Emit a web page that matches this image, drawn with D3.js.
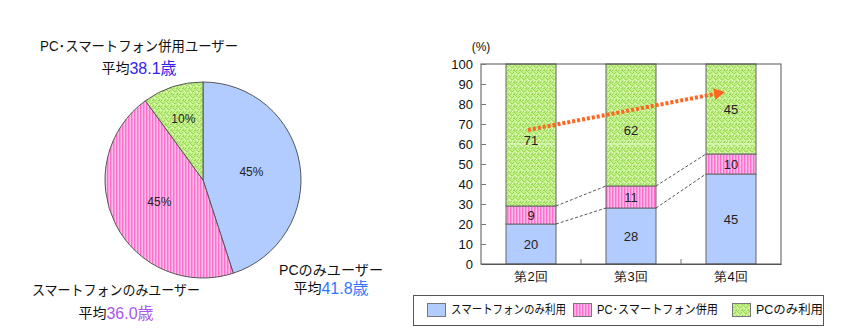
<!DOCTYPE html>
<html><head><meta charset="utf-8">
<script src="https://cdn.jsdelivr.net/npm/d3@7"></script>
<style>
body{margin:0;background:#fff;}
svg{display:block;font-family:"Liberation Sans","Noto Sans CJK JP",sans-serif;}
</style></head>
<body><svg id="c" width="847" height="328"></svg>
<script>
// ---- data ----
const pieKeys = ["PCのみ", "スマートフォンのみ", "併用"];
const pieValues = [45, 45, 10];
const pieTitles = ["PCのみユーザー", "スマートフォンのみユーザー", "PC･スマートフォン併用ユーザー"];
const pieAges = ["41.8歳", "36.0歳", "38.1歳"];

const categories = ["第2回", "第3回", "第4回"];
const seriesNames = ["スマートフォンのみ利用", "PC･スマートフォン併用", "PCのみ利用"];
const smartOnly = [20, 28, 45];
const both = [9, 11, 10];
const pcOnly = [71, 62, 45];
const yTicks = [0, 10, 20, 30, 40, 50, 60, 70, 80, 90, 100];
const trendFrom = ["第2回", 67];
const trendTo = ["第4回", 86];

const svg = d3.select("#c");
const defs = svg.append("defs");

// patterns
const pBlue = defs.append("pattern").attr("id","pBlue").attr("patternUnits","userSpaceOnUse").attr("width",4).attr("height",4);
pBlue.append("rect").attr("width",4).attr("height",4).attr("fill","#b3ccff");

const pPink = defs.append("pattern").attr("id","pPink").attr("patternUnits","userSpaceOnUse").attr("width",3).attr("height",3);
pPink.append("rect").attr("width",3).attr("height",3).attr("fill","#ff99dd");
pPink.append("rect").attr("x",0).attr("width",1).attr("height",3).attr("fill","#ff6fcf");
pPink.append("rect").attr("x",2).attr("width",1).attr("height",3).attr("fill","#ffbbea");

const pGreen = defs.append("pattern").attr("id","pGreen").attr("patternUnits","userSpaceOnUse").attr("width",6).attr("height",6);
pGreen.append("rect").attr("width",6).attr("height",6).attr("fill","#c4f08a");
[[0,0],[1,1],[2,1],[3,0],[4,3],[3,4],[4,4],[5,5],[0,4],[1,3]].forEach(([x,y])=>{
  pGreen.append("rect").attr("x",x).attr("y",y).attr("width",1).attr("height",1).attr("fill","#9ad85c");
});
[[2,3],[5,1],[0,2]].forEach(([x,y])=>{
  pGreen.append("rect").attr("x",x).attr("y",y).attr("width",1).attr("height",1).attr("fill","#e6ffc4");
});

const fills = ["url(#pBlue)","url(#pPink)","url(#pGreen)"];

// ---- pie ----
const pieG = svg.append("g").attr("transform","translate(203,180)");
const R = 98;
const pie = d3.pie().sort(null).value(d=>d)(pieValues);
const arc = d3.arc().innerRadius(0).outerRadius(R);
pieG.selectAll("path.s").data(pie).join("path").attr("class","s")
  .attr("d",arc).attr("fill",(d,i)=>fills[i])
  .attr("stroke","#555").attr("stroke-width",1);
pieG.selectAll("text.pl").data(pie).join("text").attr("class","pl")
  .attr("transform",d=>{
    const r = d.value>=20 ? R*0.5 : R*0.65;
    const a = (d.startAngle+d.endAngle)/2;
    return `translate(${r*Math.sin(a)},${-r*Math.cos(a)})`;
  })
  .attr("text-anchor","middle").attr("dominant-baseline","central")
  .attr("font-size",12).attr("fill","#222").text(d=>d.value+"%");

// pie titles
const titlePos = [[331,270,288],[116,290,313],[139,46,68]];
const titleLen = [104,168,198];
const ageColors = ["#3377ff","#aa55ee","#3322ee"];
pieTitles.forEach((t,i)=>{
  const [x,y1,y2] = titlePos[i];
  svg.append("text").attr("x",x).attr("y",y1).attr("text-anchor","middle")
    .attr("dominant-baseline","central").attr("font-size",14).attr("fill","#111")
    .attr("textLength",titleLen[i]).attr("lengthAdjust","spacingAndGlyphs").text(t);
  const tt = svg.append("text").attr("x",x).attr("y",y2).attr("text-anchor","middle")
    .attr("dominant-baseline","central").attr("fill","#111");
  tt.append("tspan").attr("font-size",14).text("平均");
  tt.append("tspan").attr("font-size",16).attr("fill",ageColors[i]).text(pieAges[i]);
});

// ---- bar chart ----
const x = d3.scaleBand().domain(categories).range([481,781]).paddingInner(0.5).paddingOuter(0.25);
const y = d3.scaleLinear().domain([0,100]).range([264,64]);
const rows = categories.map((c,i)=>({c, v:[smartOnly[i], both[i], pcOnly[i]]}));
const stack = d3.stack().keys([0,1,2]).value((d,k)=>d.v[k])(rows);
const capTop = v => Math.min(v, 100);

const bars = svg.append("g");
stack.forEach((layer,k)=>{
  bars.selectAll(null).data(layer).join("rect")
    .attr("x",d=>x(d.data.c)).attr("width",x.bandwidth())
    .attr("y",d=>y(capTop(d[1]))).attr("height",d=>y(d[0])-y(capTop(d[1])))
    .attr("fill",fills[k]).attr("stroke","#666").attr("stroke-width",1);
});
// faint white line at 60
bars.selectAll(null).data(categories).join("line")
  .attr("x1",d=>x(d)+1).attr("x2",d=>x(d)+x.bandwidth()-1)
  .attr("y1",y(60)).attr("y2",y(60)).attr("stroke","#f0ffe0").attr("stroke-width",1);

// labels
stack.forEach((layer,k)=>{
  bars.selectAll(null).data(layer).join("text")
    .attr("x",d=>x(d.data.c)+x.bandwidth()/2)
    .attr("y",d=>y((d[0]+capTop(d[1]))/2) + (d[1]-d[0]>50?5:0))
    .attr("text-anchor","middle").attr("dominant-baseline","central")
    .attr("font-size",13).attr("fill","#222").text(d=>d.data.v[k]);
});

// dashed connectors
for(let i=0;i<categories.length-1;i++){
  [0,1].forEach(k=>{
    const a = stack[k][i][1], b = stack[k][i+1][1];
    svg.append("line").attr("x1",x(categories[i])+x.bandwidth()).attr("y1",y(a))
      .attr("x2",x(categories[i+1])).attr("y2",y(b))
      .attr("stroke","#555").attr("stroke-width",1).attr("stroke-dasharray","3,2");
  });
}

// frame
svg.append("rect").attr("x",481).attr("y",y(100)).attr("width",300).attr("height",y(0)-y(100))
  .attr("fill","none").attr("stroke","#555").attr("stroke-width",1);

// y axis
const yAxis = svg.append("g").attr("transform","translate(481,0)")
  .call(d3.axisLeft(y).tickValues(yTicks).tickSize(-5).tickPadding(8));
yAxis.select(".domain").remove();
yAxis.selectAll("line").attr("stroke","#777");
yAxis.selectAll("text").attr("font-size",13).attr("fill","#111").attr("font-family","Liberation Sans, sans-serif");
svg.append("text").attr("x",481).attr("y",47).attr("text-anchor","middle")
  .attr("dominant-baseline","central").attr("font-size",12).attr("fill","#111").text("(%)");

// x axis
const xAxis = svg.append("g").attr("transform","translate(0,264)")
  .call(d3.axisBottom(x).tickSize(0).tickPadding(8));
xAxis.select(".domain").attr("stroke","#555");
xAxis.selectAll("text").attr("font-size",13).attr("fill","#111");
svg.selectAll(null).data(categories.slice(1)).join("line")
  .attr("x1",d=>x(d)-x.step()*x.paddingInner()/2).attr("x2",d=>x(d)-x.step()*x.paddingInner()/2)
  .attr("y1",264).attr("y2",259).attr("stroke","#777");

// trend arrow
const ax1 = x(trendFrom[0])+x.bandwidth()/2-3, ay1 = y(trendFrom[1]);
const ax2 = x(trendTo[0])+x.bandwidth()/2-6, ay2 = y(trendTo[1]);
const ang = Math.atan2(ay2-ay1, ax2-ax1);
svg.append("line").attr("x1",ax1).attr("y1",ay1)
  .attr("x2",ax2-8*Math.cos(ang)).attr("y2",ay2-8*Math.sin(ang))
  .attr("stroke","#ff6622").attr("stroke-width",4).attr("stroke-dasharray","3,2");
const hl=11, hw=6;
const bx = ax2 - hl*Math.cos(ang), by = ay2 - hl*Math.sin(ang);
svg.append("path").attr("d",`M${ax2},${ay2}L${bx - hw*Math.sin(ang)},${by + hw*Math.cos(ang)}L${bx + hw*Math.sin(ang)},${by - hw*Math.cos(ang)}Z`)
  .attr("fill","#ff6622");

// legend
const lg = svg.append("g");
lg.append("rect").attr("x",413.5).attr("y",295.5).attr("width",410).attr("height",30)
  .attr("fill","#fff").attr("stroke","#555").attr("stroke-width",1);
const legX = [427, 573, 732];
const legLen = [115, 121, 67];
seriesNames.forEach((n,i)=>{
  lg.append("rect").attr("x",legX[i]+0.5).attr("y",303.5).attr("width",18).attr("height",13)
    .attr("fill",fills[i]).attr("stroke","#777");
  lg.append("text").attr("x",legX[i]+24).attr("y",310).attr("dominant-baseline","central")
    .attr("font-size",12.5).attr("fill","#111")
    .attr("textLength",legLen[i]).attr("lengthAdjust","spacingAndGlyphs").text(n);
});
</script></body></html>
